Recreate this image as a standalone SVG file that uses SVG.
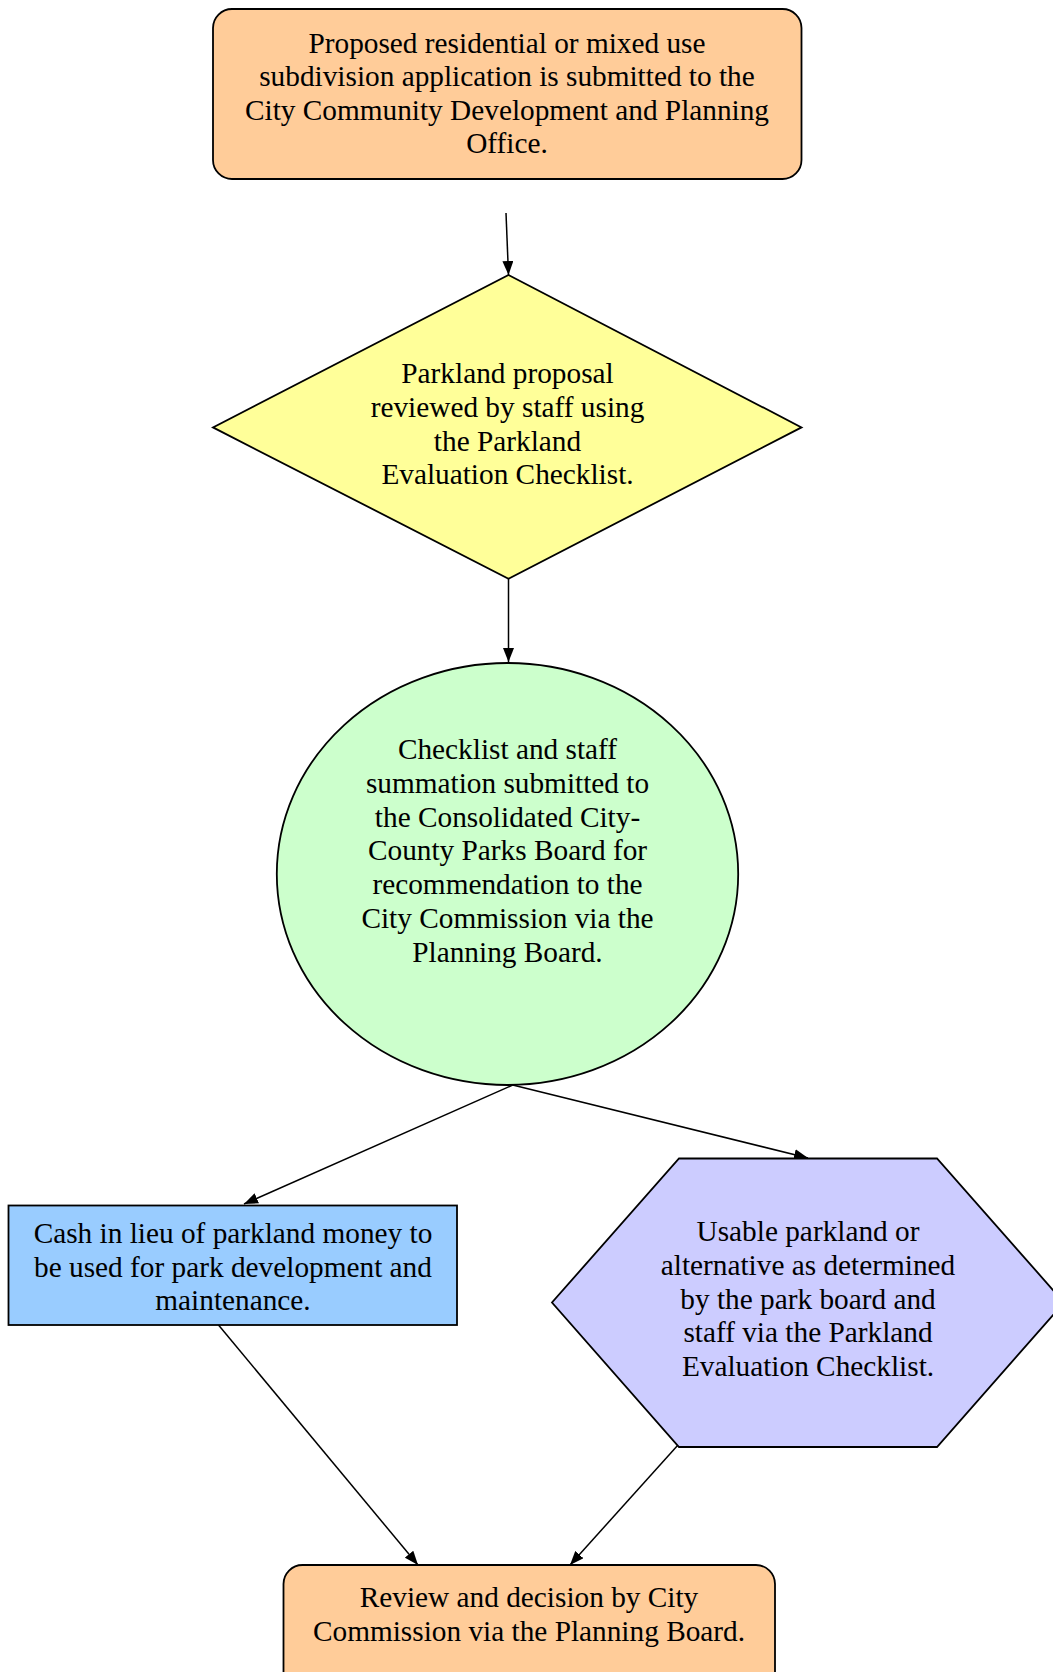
<svg xmlns="http://www.w3.org/2000/svg" width="1053" height="1672" viewBox="0 0 1053 1672">
<style>
.n{stroke:#000;stroke-width:1.8}
.t{font-family:"Liberation Serif","Times New Roman",serif;font-size:29.3px;fill:#000;text-anchor:middle}
.e{stroke:#000;stroke-width:1.5;fill:none}
</style>
<defs>
<marker id="ah" viewBox="0 0 14 11" refX="14" refY="5.5" markerWidth="14" markerHeight="11" markerUnits="userSpaceOnUse" orient="auto">
<path d="M0,0 L14,5.5 L0,11 Z" fill="#000"/>
</marker>
</defs>
<rect width="1053" height="1672" fill="#fff"/>
<g id="connectors">
<line class="e" x1="506" y1="213" x2="508.5" y2="275" marker-end="url(#ah)"/>
<line class="e" x1="508.5" y1="579" x2="508.5" y2="662" marker-end="url(#ah)"/>
<line class="e" x1="512.7" y1="1085" x2="244" y2="1204" marker-end="url(#ah)"/>
<line class="e" x1="512.7" y1="1085" x2="808" y2="1158" marker-end="url(#ah)"/>
<line class="e" x1="218.5" y1="1325" x2="418" y2="1565" marker-end="url(#ah)"/>
<line class="e" x1="678" y1="1445" x2="570" y2="1565" marker-end="url(#ah)"/>
</g>
<g id="n1">
<rect class="n" x="213" y="9" width="588.5" height="170" rx="19" fill="#ffcc99"/>
<text class="t" x="507" y="52.5">Proposed residential or mixed use</text>
<text class="t" x="507" y="86.1">subdivision application is submitted to the</text>
<text class="t" x="507" y="119.7">City Community Development and Planning</text>
<text class="t" x="507" y="153.3">Office.</text>
</g>
<g id="n2">
<polygon class="n" points="508.5,275 801.5,427.4 508.5,578.7 213,427.4" fill="#ffff99"/>
<text class="t" x="507.5" y="383">Parkland proposal</text>
<text class="t" x="507.5" y="416.8">reviewed by staff using</text>
<text class="t" x="507.5" y="450.5">the Parkland</text>
<text class="t" x="507.5" y="484.3">Evaluation Checklist.</text>
</g>
<g id="n3">
<ellipse class="n" cx="507.5" cy="874" rx="230.7" ry="211" fill="#ccffcc"/>
<text class="t" x="507.5" y="759">Checklist and staff</text>
<text class="t" x="507.5" y="792.8">summation submitted to</text>
<text class="t" x="507.5" y="826.5">the Consolidated City-</text>
<text class="t" x="507.5" y="860.3">County Parks Board for</text>
<text class="t" x="507.5" y="894">recommendation to the</text>
<text class="t" x="507.5" y="927.8">City Commission via the</text>
<text class="t" x="507.5" y="961.5">Planning Board.</text>
</g>
<g id="n4">
<rect class="n" x="8.5" y="1205.5" width="448.5" height="119.5" fill="#99ccff"/>
<text class="t" x="233" y="1243">Cash in lieu of parkland money to</text>
<text class="t" x="233" y="1276.5">be used for park development and</text>
<text class="t" x="233" y="1310">maintenance.</text>
</g>
<g id="n5">
<polygon class="n" points="679,1158.5 937,1158.5 1064,1302.5 937,1447 679,1447 552,1302.5" fill="#ccccff"/>
<text class="t" x="808" y="1241">Usable parkland or</text>
<text class="t" x="808" y="1274.8">alternative as determined</text>
<text class="t" x="808" y="1308.5">by the park board and</text>
<text class="t" x="808" y="1342.3">staff via the Parkland</text>
<text class="t" x="808" y="1376">Evaluation Checklist.</text>
</g>
<g id="n6">
<rect class="n" x="283.5" y="1565" width="491.5" height="130" rx="19" fill="#ffcc99"/>
<text class="t" x="529" y="1606.6">Review and decision by City</text>
<text class="t" x="529" y="1641">Commission via the Planning Board.</text>
</g>
</svg>
